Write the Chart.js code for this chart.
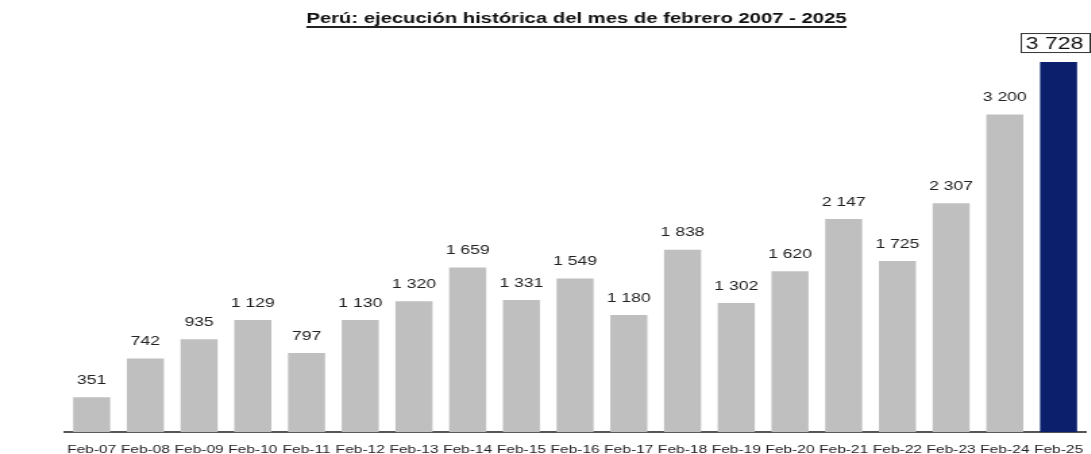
<!DOCTYPE html>
<html>
<head>
<meta charset="utf-8">
<script src="https://cdn.jsdelivr.net/npm/chart.js@4.4.1/dist/chart.umd.min.js"></script>
<style>
  html, body { margin: 0; padding: 0; background: #fff; overflow: hidden; }
  /* the source picture is stretched sideways, so the canvas is too */
  #chart { display: block; transform: scale(1.35, 1); transform-origin: 0 0; }
</style>
</head>
<body>
<canvas id="chart" width="808" height="454"></canvas>
<script>
const titleText = 'Perú: ejecución histórica del mes de febrero 2007 - 2025';
const months = ['Feb-07', 'Feb-08', 'Feb-09', 'Feb-10', 'Feb-11', 'Feb-12', 'Feb-13', 'Feb-14', 'Feb-15', 'Feb-16',
                'Feb-17', 'Feb-18', 'Feb-19', 'Feb-20', 'Feb-21', 'Feb-22', 'Feb-23', 'Feb-24', 'Feb-25'];
const execution = [351, 742, 935, 1129, 797, 1130, 1320, 1659, 1331, 1549,
                   1180, 1838, 1302, 1620, 2147, 1725, 2307, 3200, 3728];

const GRAY = '#bfbfbf';
const NAVY = '#0b1f6c';
const FONT = "'Liberation Sans', Arial, sans-serif";

function fmt(v) {
    return String(v).replace(/\B(?=(\d{3})+(?!\d))/g, ' ');
}

// underlined title, a bit right of centre like the original
const titlePlugin = {
    id: 'underlinedTitle',
    afterDraw(chart) {
        const ctx = chart.ctx;
        ctx.save();
        ctx.font = 'bold 15px ' + FONT;
        ctx.fillStyle = '#111';
        ctx.textAlign = 'center';
        ctx.textBaseline = 'alphabetic';
        const cx = 427;
        ctx.fillText(titleText, cx, 23);
        const w = ctx.measureText(titleText).width;
        ctx.strokeStyle = '#222';
        ctx.lineWidth = 2;
        ctx.beginPath();
        ctx.moveTo(cx - w / 2, 27);
        ctx.lineTo(cx + w / 2, 27);
        ctx.stroke();
        ctx.restore();
    }
};

// value labels above bars, last one boxed
const valueLabels = {
    id: 'valueLabels',
    afterDatasetsDraw(chart) {
        const ctx = chart.ctx;
        const meta = chart.getDatasetMeta(0);
        ctx.save();
        ctx.textAlign = 'center';
        ctx.textBaseline = 'middle';
        meta.data.forEach((bar, i) => {
            const txt = fmt(execution[i]);
            if (i === execution.length - 1) {
                ctx.font = '17px ' + FONT;
                const w = ctx.measureText(txt).width + 8;
                const cx = bar.x - 3;
                const cy = bar.y - 19;
                ctx.fillStyle = '#fff';
                ctx.fillRect(cx - w / 2, cy - 9.5, w, 19);
                ctx.strokeStyle = '#333';
                ctx.lineWidth = 1;
                ctx.strokeRect(Math.round(cx - w / 2) + 0.5, cy - 9.5, Math.round(w), 19);
                ctx.fillStyle = '#111';
                ctx.fillText(txt, cx, cy + 1);
            } else {
                ctx.font = '13px ' + FONT;
                ctx.fillStyle = '#222';
                ctx.fillText(txt, bar.x, bar.y - 17);
            }
        });
        ctx.restore();
    }
};

new Chart(document.getElementById('chart'), {
    type: 'bar',
    data: {
        labels: months,
        datasets: [{
            data: execution,
            backgroundColor: (c) => c.dataIndex === execution.length - 1 ? NAVY : GRAY,
            barPercentage: 0.69,
            categoryPercentage: 1.0
        }]
    },
    options: {
        responsive: false,
        devicePixelRatio: 1,
        animation: false,
        layout: { padding: { top: 40, left: 48, right: 4, bottom: -14 } },
        plugins: {
            legend: { display: false },
            title: { display: false },
            tooltip: { enabled: false }
        },
        scales: {
            x: {
                // tick padding should only push labels down, not squeeze the sides
                afterFit(scale) {
                    scale.paddingLeft = 0;
                    scale.paddingRight = 0;
                },
                grid: { display: false, drawTicks: false },
                border: { display: true, color: '#555', width: 2 },
                ticks: {
                    autoSkip: false,
                    maxRotation: 0,
                    padding: 11,
                    color: '#222',
                    font: { family: FONT, size: 11.5 }
                }
            },
            y: {
                display: false,
                min: 0,
                max: 3950
            }
        }
    },
    plugins: [titlePlugin, valueLabels]
});
</script>
</body>
</html>
